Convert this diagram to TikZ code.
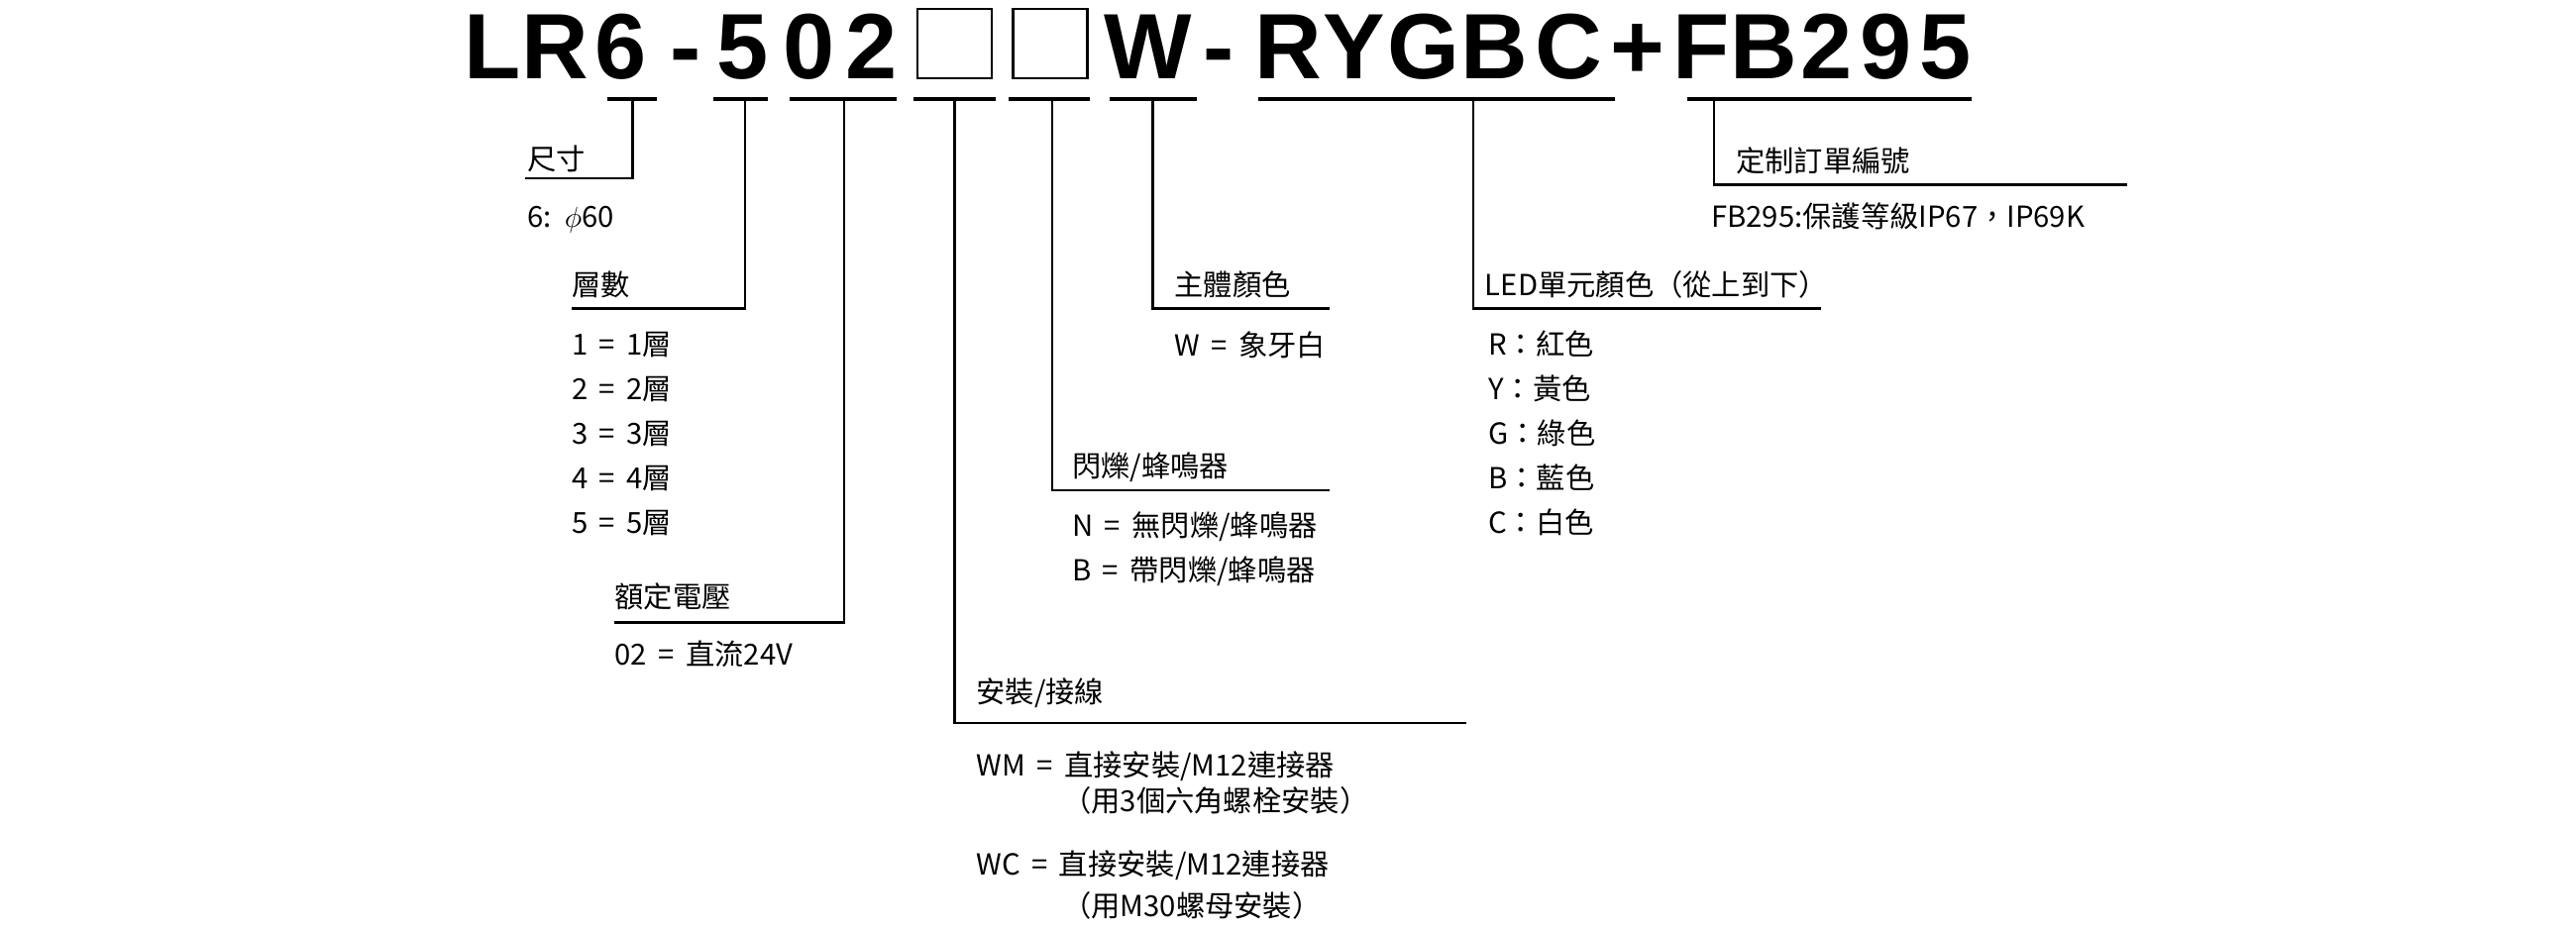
\documentclass[tikz,border=0pt]{standalone}
\usepackage{fontspec}
\setmainfont{Noto Sans CJK TC}
\newfontfamily\titlefont{Liberation Sans}
\begin{document}
\begin{tikzpicture}[x=0.02cm,y=-0.02cm,
  code/.style={font=\titlefont\bfseries\fontsize{32}{32}\selectfont,inner sep=0pt,anchor=base},
  blank/.style={draw,line width=0.8pt,minimum width=0.9cm,minimum height=0.84cm,inner sep=0pt,anchor=south},
  txt/.style={font=\fontsize{10}{12}\selectfont,inner sep=0pt,anchor=base west},
  bar/.style={line width=1.3pt},
  lead/.style={line width=0.8pt}]
\useasboundingbox (0,0) rectangle (1560,564);
% title characters
\foreach \ch/\xx in {L/298,R/336,6/376,-/415,5/450,0/490,2/528,W/695,-/738,R/780,Y/820,G/862,B/905,C/950,+/992,F/1030,B/1068,2/1106,9/1142,5/1178}
  \node[code] at (\xx,48) {\ch};
\node[blank] (box1) at (578,48) {};
\node[blank] (box2) at (636,48) {};
% marks under the code
\foreach \xa/\xb in {368/398,432/465,478/543,553/603,611/660,672/725,762/978,1022/1194}
  \draw[bar] (\xa,60) -- (\xb,60);
% leader lines
\coordinate (s0) at (383,60);  \coordinate (s1) at (383,108);  \coordinate (s2) at (318,108);
\coordinate (l0) at (451,60);  \coordinate (l1) at (451,187);  \coordinate (l2) at (346,187);
\coordinate (v0) at (511,60);  \coordinate (v1) at (511,377);  \coordinate (v2) at (372,377);
\coordinate (m0) at (578,60);  \coordinate (m1) at (578,438);  \coordinate (m2) at (888,438);
\coordinate (f0) at (637,60);  \coordinate (f1) at (637,297);  \coordinate (f2) at (805,297);
\coordinate (b0) at (698,60);  \coordinate (b1) at (698,187);  \coordinate (b2) at (805,187);
\coordinate (c0) at (892,60);  \coordinate (c1) at (892,187);  \coordinate (c2) at (1103,187);
\coordinate (o0) at (1038,60); \coordinate (o1) at (1038,112); \coordinate (o2) at (1288,112);
\foreach \p in {s,l,v,m,f,b,c,o}
  \draw[lead] (\p0) -- (\p1) -- (\p2);
% texts
\node[txt] (size) at (319,103) {尺寸};
\node[txt] (sizev) at (319,138) {6:\ \ $\phi$60};
\node[txt] (tier) at (346,179) {層數};
\foreach \n/\yy in {1/215,2/242,3/269,4/296,5/323}
  \node[txt] (tier\n) at (346,\yy) {\n\ \,=\ \,{\n}層};
\node[txt] (volt) at (372,368) {額定電壓};
\node[txt] (voltv) at (372,403) {02 \,=\ \,直流24V};
\node[txt] (mount) at (591,426) {安裝/接線};
\node[txt] (wm) at (591,470) {WM \,=\ \,直接安裝/M12連接器};
\node[txt] (wmn) at (643,492) {（用3個六角螺栓安裝）};
\node[txt] (wc) at (591,530) {WC \,=\ \,直接安裝/M12連接器};
\node[txt] (wcn) at (643,555) {（用M30螺母安裝）};
\node[txt] (flash) at (649,289) {閃爍/蜂鳴器};
\node[txt] (flashn) at (649,325) {N \,=\ \,無閃爍/蜂鳴器};
\node[txt] (flashb) at (649,352) {B \,=\ \,帶閃爍/蜂鳴器};
\node[txt] (body) at (711,179) {主體顏色};
\node[txt] (bodyw) at (711,216) {W \,=\ \,象牙白};
\node[txt] (led) at (899,179) {LED單元顏色（從上到下）};
\foreach \k/\cl/\yy in {r/R：紅色/215,y/Y：黃色/242,g/G：綠色/269,b/B：藍色/296,c/C：白色/323}
  \node[txt] (led\k) at (901,\yy) {\cl};
\node[txt] (order) at (1051,104) {定制訂單編號};
\node[txt] (orderv) at (1036,138) {FB295:保護等級IP67，IP69K};
\end{tikzpicture}
\end{document}
